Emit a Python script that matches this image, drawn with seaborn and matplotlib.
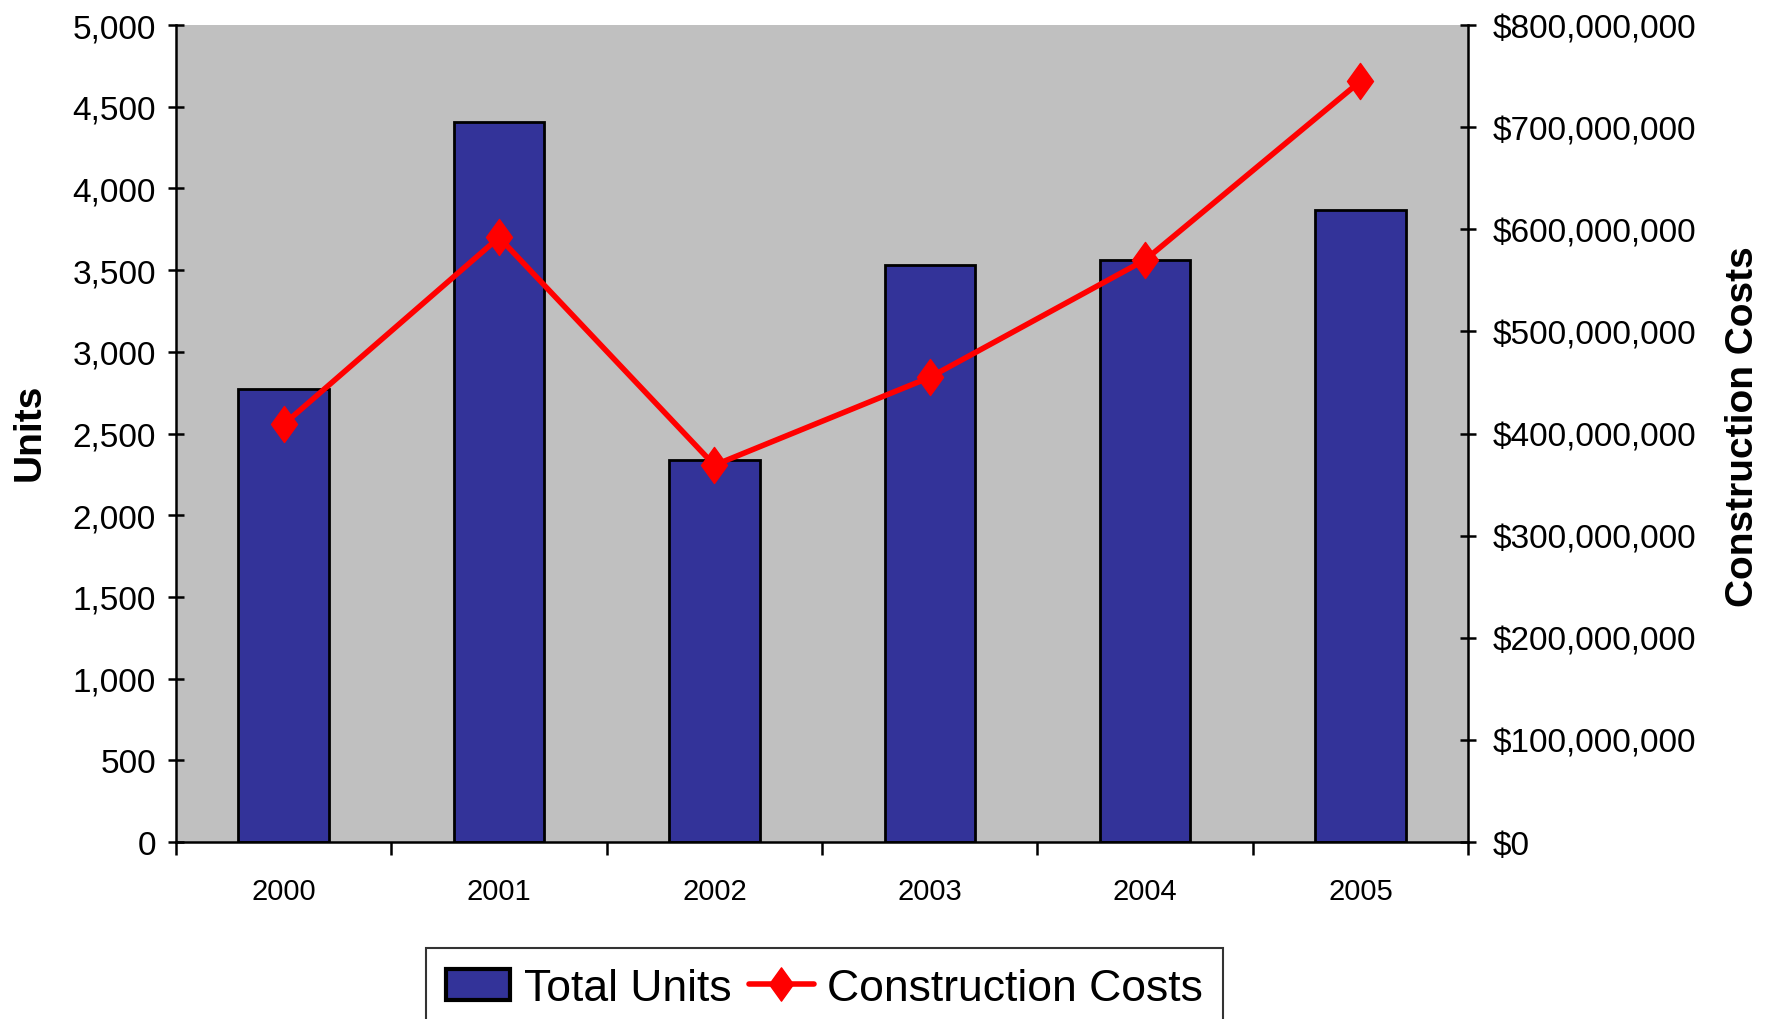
import numpy as np
import pandas as pd
import matplotlib
matplotlib.use("Agg")
import matplotlib.pyplot as plt
from matplotlib.path import Path
from matplotlib.patches import Patch
from matplotlib.lines import Line2D
from matplotlib.ticker import FuncFormatter, MultipleLocator, FixedLocator
import seaborn as sns

# Datos
years = ["2000", "2001", "2002", "2003", "2004", "2005"]
total_units = [2770, 4405, 2337, 3534, 3562, 3866]
construction_costs = [409e6, 592e6, 369e6, 455e6, 570e6, 745e6]

df = pd.DataFrame({"year": years, "units": total_units, "costs": construction_costs})

sns.set_style("ticks")
plt.rcParams["font.family"] = ["Liberation Sans", "DejaVu Sans"]
plt.rcParams["text.color"] = "black"
plt.rcParams["xtick.color"] = "black"
plt.rcParams["ytick.color"] = "black"
plt.rcParams["xtick.labelcolor"] = "black"
plt.rcParams["ytick.labelcolor"] = "black"

fig = plt.figure(figsize=(17.71, 10.2), dpi=100)
ax = fig.add_axes([0.0994, 0.1735, 0.7296, 0.801])
ax.set_facecolor("#C0C0C0")

sns.barplot(data=df, x="year", y="units", ax=ax, color="#333399",
            saturation=1, width=0.42, edgecolor="black", linewidth=2.0)

ax.set_ylim(0, 5000)
ax.set_xlim(-0.5, len(years) - 0.5)
ax.yaxis.set_major_locator(MultipleLocator(500))
ax.yaxis.set_major_formatter(FuncFormatter(lambda v, p: f"{v:,.0f}"))
ax.tick_params(axis="y", direction="inout", length=11, width=1.8, labelsize=24, pad=9)
ax.tick_params(axis="x", which="major", length=0, labelsize=21, pad=25)
ax.xaxis.set_minor_locator(FixedLocator(np.arange(-0.5, len(years), 1.0)))
ax.tick_params(axis="x", which="minor", direction="out", length=9, width=1.8)
ax.set_xlabel("")
ax.set_ylabel("")
for s in ["left", "bottom"]:
    ax.spines[s].set_linewidth(1.8)
    ax.spines[s].set_color("black")
ax.spines["top"].set_visible(False)
ax.spines["right"].set_visible(False)

# Eje secundario para los costos
ax2 = ax.twinx()
diamond = Path([(0, 1), (0.72, 0), (0, -1), (-0.72, 0), (0, 1)],
               [Path.MOVETO, Path.LINETO, Path.LINETO, Path.LINETO, Path.CLOSEPOLY])
ax2.plot(np.arange(len(years)), df["costs"], color="#FF0000", linewidth=4,
         marker=diamond, markersize=26, markerfacecolor="#FF0000",
         markeredgecolor="#FF0000")
ax2.set_ylim(0, 800e6)
ax2.yaxis.set_major_locator(MultipleLocator(100e6))
ax2.yaxis.set_major_formatter(FuncFormatter(lambda v, p: f"${v:,.0f}"))
ax2.tick_params(axis="y", direction="inout", length=11, width=1.8, labelsize=24, pad=12)
ax2.spines["right"].set_linewidth(1.8)
ax2.spines["right"].set_color("black")
for s in ["top", "left", "bottom"]:
    ax2.spines[s].set_visible(False)

# Titulos de ejes
fig.text(0.0166, 0.576, "Units", rotation=90, ha="center", va="center",
         fontsize=28, fontweight="bold")
fig.text(0.984, 0.405, "Construction Costs", rotation=90, ha="center", va="bottom",
         fontsize=28, fontweight="bold")

# Leyenda
handles = [
    Patch(facecolor="#333399", edgecolor="black", linewidth=3),
    Line2D([0], [0], color="#FF0000", linewidth=4, marker=diamond,
           markersize=24, markerfacecolor="#FF0000", markeredgecolor="#FF0000"),
]
leg = fig.legend(handles, ["Total Units", "Construction Costs"], loc="upper left",
                 bbox_to_anchor=(0.2405, 0.0696), ncol=2, frameon=True, fancybox=False,
                 prop={"size": 32}, handlelength=1.45,
                 handletextpad=0.3, columnspacing=0.4, borderpad=0.45, borderaxespad=0)
leg.get_frame().set_edgecolor("black")
leg.get_frame().set_linewidth(1.5)

plt.savefig("out.png", dpi=100)
